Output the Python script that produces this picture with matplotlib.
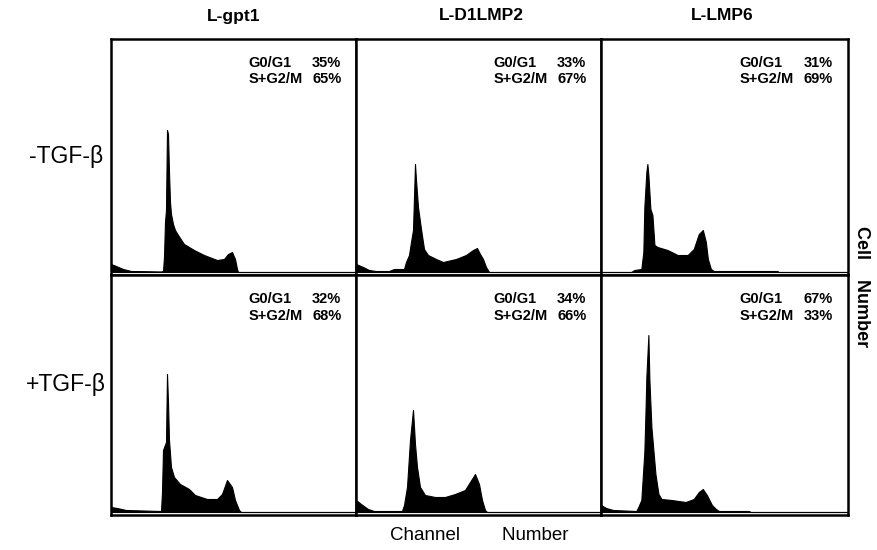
import matplotlib.pyplot as plt

plt.rcParams['font.family'] = ['Liberation Sans', 'DejaVu Sans']

# ==========================
# Data (channel, cell count)
# ==========================
col_titles = ["L-gpt1", "L-D1LMP2", "L-LMP6"]
row_titles = ["-TGF-β", "+TGF-β"]

# -TGF-b row
ch_gpt1_minus = [0, 5, 12, 20, 50, 52, 53, 54, 55, 56, 57, 58, 59, 60, 62, 64, 67, 73, 83, 93, 106, 113, 117, 121, 124, 126, 127, 245]
ct_gpt1_minus = [8, 6, 3, 1, 0.5, 1, 15, 50, 62, 142, 138, 100, 70, 58, 48, 42, 37, 28, 22, 17, 12, 13, 18, 20, 13, 3, 0, 0]

ch_lmp2_minus = [0, 7, 13, 20, 33, 38, 48, 50, 53, 55, 57, 59, 60, 62, 65, 68, 72, 80, 87, 100, 110, 117, 121, 124, 127, 130, 133, 245]
ct_lmp2_minus = [8, 5, 2, 1, 1, 3, 3, 10, 17, 30, 42, 108, 92, 65, 43, 23, 17, 13, 10, 13, 17, 22, 24, 18, 13, 5, 0, 0]

ch_lmp6_minus = [0, 30, 33, 40, 42, 43, 45, 46, 47, 49, 51, 53, 56, 66, 76, 86, 92, 97, 101, 104, 106, 109, 112, 175, 176, 245]
ct_lmp6_minus = [0, 0, 2, 3, 20, 65, 100, 108, 97, 63, 57, 27, 25, 22, 17, 17, 23, 38, 42, 30, 13, 3, 1, 1, 0, 0]

# +TGF-b row
ch_gpt1_plus = [0, 6, 15, 50, 51, 52, 55, 56, 57, 58, 60, 63, 69, 78, 84, 96, 106, 111, 116, 121, 124, 128, 130, 245]
ct_gpt1_plus = [5, 4, 2, 1, 20, 62, 70, 138, 110, 72, 45, 35, 28, 23, 17, 13, 13, 18, 32, 25, 12, 2, 0, 0]

ch_lmp2_plus = [0, 5, 12, 18, 46, 48, 51, 54, 57, 58, 59, 61, 64, 69, 79, 89, 99, 109, 114, 119, 123, 126, 129, 131, 245]
ct_lmp2_plus = [12, 8, 3, 1, 1, 7, 25, 72, 102, 85, 68, 45, 25, 17, 15, 15, 18, 22, 30, 38, 28, 12, 2, 0, 0]

ch_lmp6_plus = [0, 5, 12, 35, 37, 40, 43, 44, 45, 47, 48, 50, 54, 57, 60, 70, 84, 92, 97, 101, 105, 110, 114, 117, 147, 148, 245]
ct_lmp6_plus = [7, 4, 2, 1, 5, 12, 60, 95, 135, 177, 132, 85, 38, 18, 13, 12, 10, 13, 20, 23, 17, 7, 3, 1, 1, 0, 0]

g0g1 = [[35, 33, 31], [32, 34, 67]]
sg2m = [[65, 67, 69], [68, 66, 33]]

channels = [[ch_gpt1_minus, ch_lmp2_minus, ch_lmp6_minus],
            [ch_gpt1_plus, ch_lmp2_plus, ch_lmp6_plus]]
counts = [[ct_gpt1_minus, ct_lmp2_minus, ct_lmp6_minus],
          [ct_gpt1_plus, ct_lmp2_plus, ct_lmp6_plus]]

# ==========================
# Layout
# ==========================
W, H = 878, 550
fig = plt.figure(figsize=(W / 100, H / 100), dpi=100)

col_edges = [111, 356, 601, 848]
row_edges = [39, 275, 515]

for r in range(2):
    for c in range(3):
        x0, x1 = col_edges[c], col_edges[c + 1]
        y0, y1 = row_edges[r], row_edges[r + 1]
        ax = fig.add_axes([x0 / W, 1 - y1 / H, (x1 - x0) / W, (y1 - y0) / H])
        ax.fill_between(channels[r][c], counts[r][c], 0, color="black", lw=0.8,
                        edgecolor="black")
        ax.set_xlim(0, 245)
        ax.set_ylim(-3, y1 - y0 - 3)
        ax.set_xticks([])
        ax.set_yticks([])
        for s in ax.spines.values():
            s.set_linewidth(1.8)

        ax.text(0.56, 0.90, "G0/G1", transform=ax.transAxes, fontsize=10.5,
                fontweight="bold", ha="left", va="center")
        ax.text(0.94, 0.90, f"{g0g1[r][c]}%", transform=ax.transAxes, fontsize=10.5,
                fontweight="bold", ha="right", va="center")
        ax.text(0.56, 0.83, "S+G2/M", transform=ax.transAxes, fontsize=10.5,
                fontweight="bold", ha="left", va="center")
        ax.text(0.94, 0.83, f"{sg2m[r][c]}%", transform=ax.transAxes, fontsize=10.5,
                fontweight="bold", ha="right", va="center")

# column titles
for c, t in enumerate(col_titles):
    xc = [234, 481, 722][c]
    fig.text(xc / W, 1 - 16 / H, t, fontsize=12.5, fontweight="bold",
             ha="center", va="center")

# row titles
for r, t in enumerate(row_titles):
    yc = [157, 385][r]
    fig.text(66 / W, 1 - yc / H, t, fontsize=16.5, ha="center", va="center")

fig.text(479 / W, 1 - 536 / H, "Channel        Number", fontsize=13.5,
         ha="center", va="center")
fig.text(862 / W, 1 - 287 / H, "Cell    Number", fontsize=13, fontweight="bold",
         rotation=-90, ha="center", va="center")

fig.savefig("out.png", dpi=100)
